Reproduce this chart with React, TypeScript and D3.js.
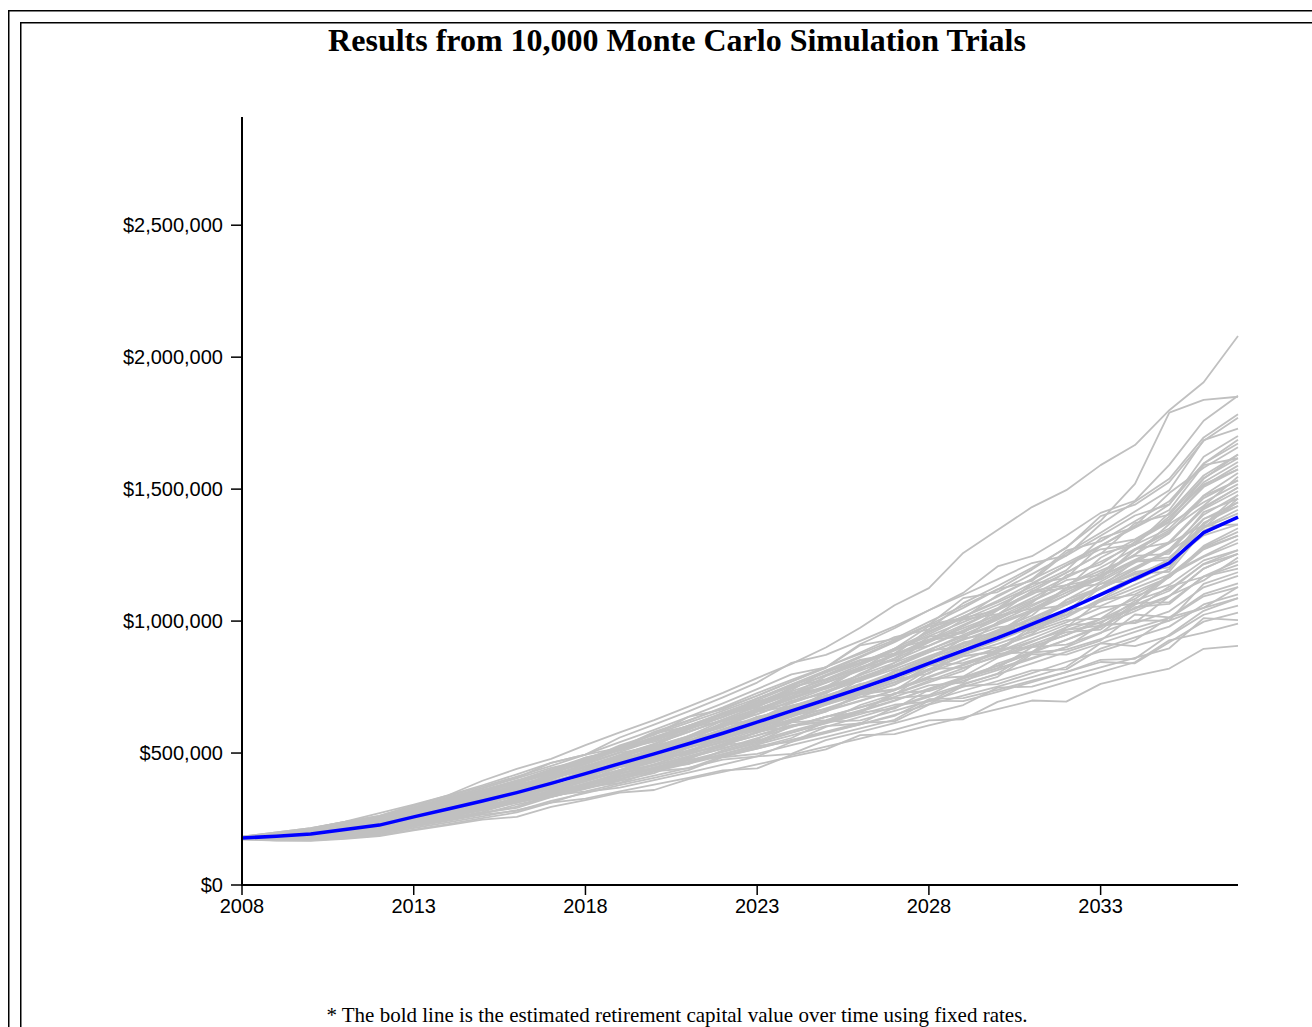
import React from "react";
import * as d3 from "d3";

// Years on the horizontal axis (one point per year)
const years = [
  2008, 2009, 2010, 2011, 2012, 2013, 2014, 2015, 2016, 2017,
  2018, 2019, 2020, 2021, 2022, 2023, 2024, 2025, 2026, 2027,
  2028, 2029, 2030, 2031, 2032, 2033, 2034, 2035, 2036, 2037,
];

// Estimated retirement capital using fixed rates (thousands of $)
const fixedRateCapital = [
  178, 185, 193, 210, 227, 258, 288, 318, 350, 385, 422, 460, 497, 535, 575,
  617, 660, 702, 745, 790, 840, 888, 936, 988, 1042, 1100, 1160, 1220, 1335, 1394,
];

// Sample of simulation trials (thousands of $)
const simulationTrials: number[][] = [
  [182,196,214,240,272,305,340,395,440,478,530,578,625,676,728,784,838,900,975,1060,1125,1258,1345,1432,1496,1591,1667,1799,1905,2080],
  [176,188,205,228,255,285,318,352,392,430,472,515,558,603,652,700,752,806,862,920,985,1050,1120,1195,1280,1380,1520,1790,1838,1850],
  [182,196,210,233,255,292,329,366,406,463,494,541,588,637,688,742,798,825,912,973,1041,1107,1207,1246,1323,1410,1456,1592,1759,1854],
  [181,193,206,227,248,284,319,345,393,434,478,524,569,637,665,717,771,825,881,939,969,1068,1133,1202,1277,1398,1441,1527,1683,1770],
  [183,199,215,239,262,301,337,373,411,451,494,520,580,624,669,717,770,823,908,933,997,1058,1120,1152,1258,1335,1415,1496,1686,1729],
  [180,191,202,222,241,275,310,345,392,423,467,512,558,604,636,707,760,812,866,923,986,1087,1110,1178,1248,1323,1400,1442,1623,1701],
  [181,195,209,231,252,289,316,358,394,434,475,517,574,601,645,692,744,796,850,872,969,1029,1092,1159,1267,1302,1378,1454,1597,1673],
  [179,188,197,216,234,267,300,333,368,408,433,493,535,580,627,677,750,780,833,889,950,1012,1041,1140,1211,1284,1361,1485,1581,1659],
  [180,192,203,224,244,278,313,356,384,424,467,511,554,599,647,672,746,794,843,895,980,1006,1061,1121,1183,1256,1289,1410,1552,1631],
  [182,196,210,233,255,292,327,360,396,419,473,514,553,593,652,677,725,773,822,873,931,955,1041,1101,1164,1286,1310,1386,1526,1603],
  [179,189,200,219,238,272,305,337,362,410,451,493,533,597,620,667,716,766,816,896,928,986,1044,1108,1126,1240,1308,1377,1508,1575],
  [181,193,206,227,248,284,318,351,387,426,483,509,550,592,636,682,729,745,820,869,922,973,1024,1114,1136,1203,1273,1344,1437,1547],
  [179,187,196,213,231,263,303,327,362,399,440,481,503,565,610,657,704,751,825,850,906,960,1015,1074,1136,1161,1269,1337,1466,1533],
  [180,191,202,222,241,275,307,339,372,420,446,485,522,560,600,662,689,735,783,832,888,903,996,1056,1117,1183,1252,1368,1450,1519],
  [179,188,198,217,235,268,301,324,368,406,446,488,528,554,615,662,707,750,795,842,929,942,991,1043,1098,1163,1273,1297,1424,1492],
  [178,184,191,208,224,255,285,316,362,386,425,466,506,547,591,637,662,729,776,826,881,934,1021,1047,1108,1169,1232,1295,1364,1478],
  [179,187,196,215,233,265,296,326,359,394,419,470,507,545,608,627,672,716,762,783,862,914,966,1021,1126,1140,1204,1267,1387,1450],
  [178,185,193,210,227,258,289,329,352,388,427,466,521,545,587,632,676,718,731,807,857,906,954,1042,1061,1122,1186,1204,1372,1436],
  [177,182,189,204,220,250,279,309,341,391,414,453,491,531,573,597,662,706,751,799,852,934,955,1012,1070,1126,1228,1241,1353,1408],
  [179,188,197,216,234,267,297,326,347,391,427,463,497,532,587,607,650,692,734,779,801,878,926,978,1033,1143,1153,1215,1332,1394],
  [177,183,190,207,223,253,282,320,341,375,411,447,467,519,557,597,639,710,724,769,819,867,883,969,1023,1080,1138,1197,1361,1366],
  [178,186,195,212,230,261,291,321,352,386,435,459,494,530,568,607,621,686,726,768,813,888,901,947,995,1051,1066,1168,1280,1338],
  [177,181,186,201,216,244,272,301,341,364,400,436,471,525,546,587,629,669,712,722,805,852,900,951,1042,1057,1112,1166,1272,1324],
  [177,183,190,205,221,251,271,307,337,369,403,455,471,505,540,577,617,657,722,739,787,832,877,882,976,1029,1084,1173,1243,1296],
  [176,179,184,198,213,241,268,296,326,371,395,431,466,503,523,582,621,659,697,737,818,824,865,911,958,968,1062,1115,1217,1269],
  [177,182,188,203,219,248,275,293,331,363,396,430,478,496,531,567,606,620,682,723,768,811,895,900,948,997,1047,1096,1154,1241],
  [176,178,183,196,210,238,264,291,333,351,385,420,453,488,524,582,600,637,674,713,756,767,839,883,929,977,1068,1072,1168,1213],
  [177,181,186,201,216,244,271,297,325,356,375,421,452,484,517,552,616,625,662,700,742,782,822,901,911,956,1003,1002,1141,1185],
  [175,177,180,193,206,233,258,293,312,343,375,409,442,458,510,547,584,619,655,727,735,774,814,857,901,987,992,1037,1128,1171],
  [176,179,184,198,213,241,267,293,320,339,382,414,445,476,531,542,578,612,647,683,695,762,799,840,883,926,1025,1014,1102,1143],
  [175,175,177,189,202,227,252,277,315,334,366,398,445,462,496,532,567,602,612,673,713,751,789,875,873,916,959,1002,1050,1129],
  [176,178,182,195,209,236,269,285,312,340,371,387,430,460,490,522,557,619,624,660,698,736,773,813,817,896,938,979,1063,1101],
  [174,174,176,187,199,224,247,271,297,339,355,385,414,444,475,487,542,575,609,645,685,754,761,803,845,885,927,1014,1050,1087],
  [175,176,179,191,204,231,255,270,305,334,364,395,424,475,485,517,550,581,614,620,683,718,752,788,826,916,905,944,1024,1059],
  [174,173,174,184,196,221,243,267,281,319,348,378,406,435,484,497,530,561,593,626,698,697,732,769,807,845,840,920,998,1032],
  [174,171,171,181,192,216,237,260,284,312,353,369,397,426,456,487,497,549,580,613,648,682,748,752,789,825,861,897,1011,1004],
  [173,168,167,175,185,207,227,248,258,296,322,350,360,401,429,457,486,514,568,572,605,635,666,699,695,762,792,820,895,906],
  [173,169,169,178,188,210,231,253,275,312,327,355,380,406,434,442,493,524,555,588,624,628,694,731,770,807,844,927,956,990],
  [180,191,202,222,241,275,307,339,362,409,448,487,525,564,623,647,696,745,795,875,907,965,1024,1087,1155,1175,1300,1375,1513,1589],
  [177,182,189,204,220,250,278,307,339,373,396,447,483,521,560,602,648,717,741,791,846,901,956,972,1080,1149,1221,1295,1429,1506],
  [179,189,200,219,238,272,305,348,375,415,457,501,525,589,637,687,734,778,825,872,925,1006,1026,1079,1136,1191,1247,1255,1413,1464],
  [175,177,180,193,206,233,259,287,317,338,385,422,458,495,535,577,643,666,712,760,814,867,888,980,1042,1104,1169,1234,1356,1422],
  [183,199,215,239,262,301,340,378,419,463,494,559,608,658,711,767,842,872,925,980,1041,1099,1158,1220,1248,1367,1452,1539,1696,1784],
  [176,179,184,198,213,241,266,291,327,345,374,403,431,442,488,517,549,579,609,641,704,708,739,774,807,853,857,948,1039,1087],
  [181,193,206,227,248,284,317,350,385,423,462,517,542,582,623,667,711,754,772,842,892,940,986,1037,1126,1157,1228,1300,1432,1506],
  [177,181,186,201,216,244,273,303,325,371,409,449,488,528,571,637,664,710,758,808,864,919,942,1035,1098,1173,1252,1332,1476,1561],
  [178,186,195,212,230,261,293,324,358,407,435,476,516,557,601,647,698,725,801,857,919,981,1043,1111,1183,1254,1371,1403,1542,1617],
  [176,178,183,196,210,238,265,302,324,357,393,430,467,505,563,587,625,662,699,738,781,790,861,904,948,1007,1068,1178,1246,1310],
  [179,189,200,219,238,272,303,334,366,401,451,476,512,549,587,627,667,706,745,812,831,873,914,959,1004,1009,1095,1138,1230,1269],
  [177,183,190,207,223,253,281,308,337,368,401,435,482,499,532,567,603,637,672,708,719,785,821,861,901,954,1053,1065,1170,1227],
  [181,195,209,231,252,289,324,358,385,435,477,519,561,604,650,697,723,791,839,889,943,996,1049,1140,1164,1225,1289,1351,1474,1533],
  [175,176,179,191,204,231,256,283,312,355,377,412,446,481,518,557,598,638,655,724,774,821,869,921,976,1078,1101,1166,1285,1352],
  [179,187,196,215,233,265,298,331,367,406,448,477,534,579,627,677,723,767,812,859,940,960,1009,1062,1117,1171,1225,1232,1387,1436],
  [177,182,188,203,219,248,278,308,341,378,430,458,498,540,585,632,681,705,778,831,890,948,1005,1069,1173,1215,1300,1386,1539,1631],
  [180,192,203,224,244,278,311,333,375,410,448,485,522,559,597,657,678,718,758,799,845,888,963,977,1023,1074,1125,1176,1277,1324],
  [174,174,176,187,199,224,249,274,292,333,366,400,433,467,504,542,602,619,657,698,744,788,831,880,929,983,994,1094,1199,1255],
  [178,185,193,210,227,258,287,316,346,368,414,449,483,535,554,592,637,682,728,777,832,917,939,999,1061,1126,1195,1264,1353,1464],
  [182,197,212,236,258,295,332,367,404,444,473,529,571,615,660,707,756,805,853,878,962,1017,1071,1130,1192,1313,1356,1442,1597,1687],
  [177,183,190,205,221,251,282,314,359,387,428,471,514,559,606,657,723,743,787,832,882,929,976,992,1080,1128,1177,1225,1325,1366],
  [179,188,198,217,235,268,299,328,359,393,428,464,483,533,569,607,645,683,720,758,831,842,881,924,967,1007,1047,1131,1168,1199],
  [176,179,184,198,213,241,267,292,319,349,380,426,442,472,504,537,576,614,653,668,740,785,830,879,967,983,1038,1094,1199,1255],
  [180,191,202,222,241,275,309,343,379,407,461,504,547,591,638,687,738,812,841,896,957,1017,1077,1143,1211,1272,1291,1396,1518,1575],
  [178,184,191,208,224,255,285,324,348,384,422,461,500,540,564,627,668,707,747,789,834,878,953,967,1014,1084,1158,1234,1369,1450],
  [179,187,196,213,231,263,292,320,349,381,427,447,479,510,543,577,618,658,724,742,790,836,883,934,986,991,1077,1122,1215,1255],
  [175,177,181,194,207,234,262,291,322,356,393,432,454,510,552,597,643,688,734,811,839,893,948,1007,1070,1124,1180,1187,1343,1394],
  [180,190,201,220,240,273,306,337,381,408,446,485,524,563,604,627,690,732,774,818,867,914,960,1009,1023,1128,1199,1272,1403,1478],
  [176,180,185,200,214,243,268,293,320,360,379,409,438,466,496,527,542,599,637,675,718,759,801,881,892,932,973,1012,1094,1129],
  [181,194,207,229,250,285,322,357,396,438,483,515,575,623,673,727,777,826,876,929,987,1012,1098,1158,1220,1286,1354,1421,1591,1617],
];

const yTickValues = [0, 500000, 1000000, 1500000, 2000000, 2500000];
const xTickValues = [2008, 2013, 2018, 2023, 2028, 2033];

const titleText = "Results from 10,000 Monte Carlo Simulation Trials";
const footnoteText =
  "* The bold line is the estimated retirement capital value over time using fixed rates.";

const SANS = "'Liberation Sans', Arial, Helvetica, sans-serif";
const SERIF = "'Liberation Serif', 'Times New Roman', Times, serif";

export default function App() {
  const x = d3.scaleLinear().domain([2008, 2037]).range([242, 1238]);
  const y = d3.scaleLinear().domain([0, 2910000]).range([885, 117]);
  const line = d3
    .line<number>()
    .x((_, i) => x(years[i]))
    .y((d) => y(d * 1000));
  const fmt = d3.format("$,.0f");

  return (
    <svg
      width={1312}
      height={1027}
      style={{ position: "absolute", left: 0, top: 0, background: "#fff" }}
    >
      <rect x={8.75} y={10.75} width={1400} height={1100} fill="none" stroke="#000" strokeWidth={1.5} />
      <rect x={20.75} y={22.75} width={1400} height={1100} fill="none" stroke="#000" strokeWidth={1.5} />

      <text
        x={677}
        y={51}
        textAnchor="middle"
        fontFamily={SERIF}
        fontWeight="bold"
        fontSize={32}
        fill="#000"
      >
        {titleText}
      </text>

      <g>
        {simulationTrials.map((t, i) => (
          <path
            key={i}
            d={line(t) || ""}
            fill="none"
            stroke="#c0c0c0"
            strokeWidth={1.8}
            strokeLinejoin="round"
          />
        ))}
      </g>
      <path
        d={line(fixedRateCapital) || ""}
        fill="none"
        stroke="#0000ff"
        strokeWidth={3.5}
        strokeLinejoin="round"
      />

      {/* Y axis */}
      <line x1={242} x2={242} y1={117} y2={886} stroke="#000" strokeWidth={2} />
      {yTickValues.map((v) => (
        <g key={v} transform={`translate(0,${y(v)})`}>
          <line x1={231} x2={242} y1={0} y2={0} stroke="#000" strokeWidth={1.5} />
          <text
            x={223}
            y={0}
            dy="0.35em"
            textAnchor="end"
            fontFamily={SANS}
            fontSize={20}
            fill="#000"
          >
            {fmt(v)}
          </text>
        </g>
      ))}

      {/* X axis */}
      <line x1={241} x2={1238} y1={885} y2={885} stroke="#000" strokeWidth={2} />
      {xTickValues.map((v) => (
        <g key={v} transform={`translate(${x(v)},0)`}>
          <line x1={0} x2={0} y1={885} y2={895} stroke="#000" strokeWidth={1.5} />
          <text
            x={0}
            y={913}
            textAnchor="middle"
            fontFamily={SANS}
            fontSize={20}
            fill="#000"
          >
            {v}
          </text>
        </g>
      ))}

      <text
        x={677}
        y={1022}
        textAnchor="middle"
        fontFamily={SERIF}
        fontSize={21}
        fill="#000"
      >
        {footnoteText}
      </text>
    </svg>
  );
}
